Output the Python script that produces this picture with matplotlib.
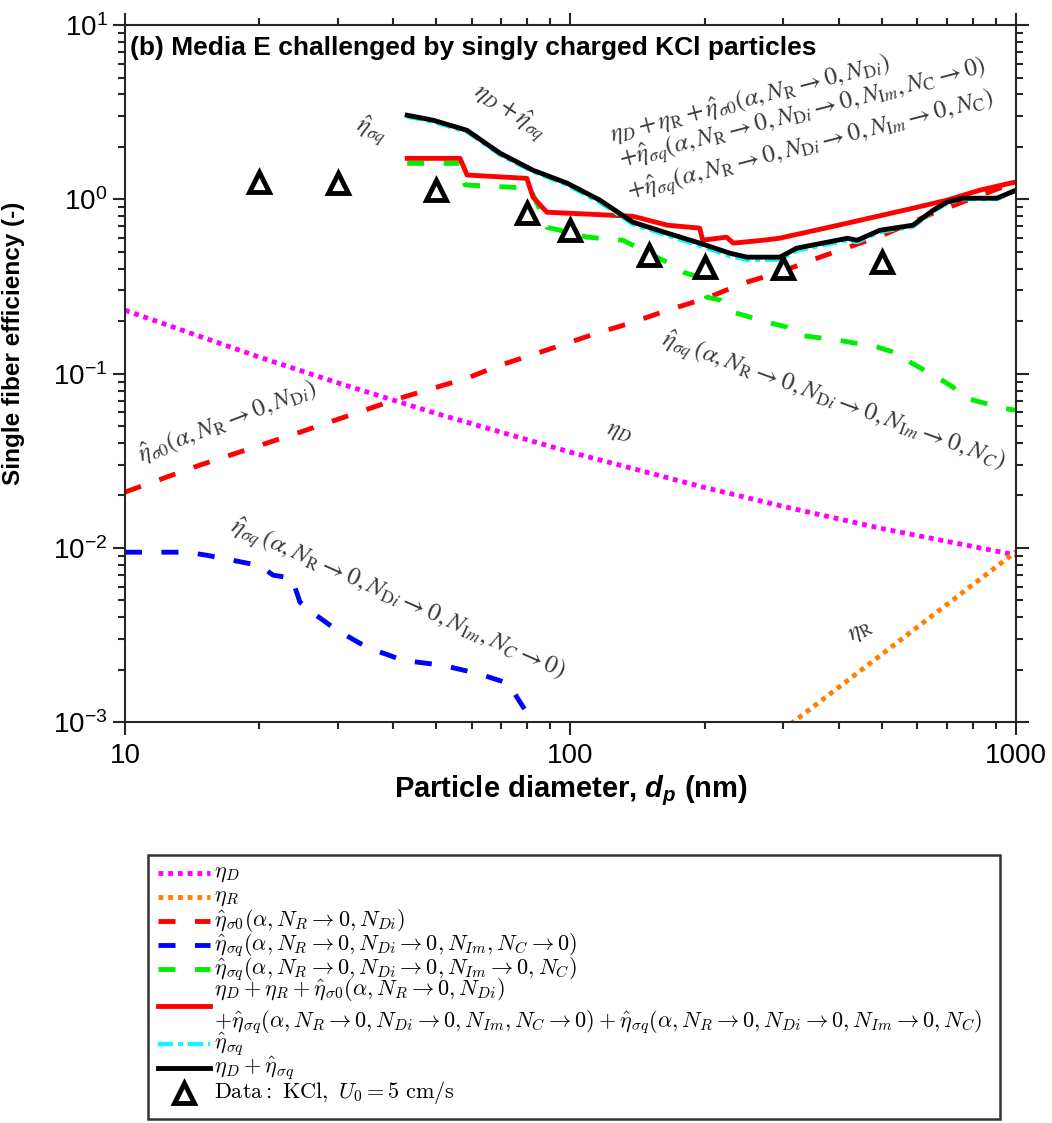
import matplotlib
matplotlib.use("Agg")
import matplotlib.pyplot as plt
from matplotlib.lines import Line2D
from matplotlib.patches import Rectangle

plt.rcParams['font.family'] = ['Liberation Sans', 'DejaVu Sans']
plt.rcParams['mathtext.fontset'] = 'custom'
plt.rcParams['mathtext.it'] = 'Liberation Sans:italic:bold'
plt.rcParams['mathtext.rm'] = 'Liberation Sans:bold'
plt.rcParams['mathtext.bf'] = 'Liberation Sans:bold'

# ---- data (d in nm, efficiencies in -) ----
d_diff = [10, 20, 30, 50, 100, 200, 300, 500, 1000]
eta_diff = [0.231, 0.1245, 0.0886, 0.059, 0.0354, 0.0222, 0.0173, 0.0129, 0.0091]

d_inter = [300, 316, 500, 700, 1000]
eta_inter = [0.0009, 0.001, 0.00245, 0.00474, 0.0095]

d_s0 = [10, 14.7, 24.7, 41.4, 58.6, 69.5, 85.5, 114.6, 136, 165, 202, 244, 295, 363, 500, 652, 861, 1000]
eta_s0 = [0.0209, 0.0298, 0.0461, 0.0723, 0.0942, 0.1117, 0.1327, 0.1706, 0.1946, 0.231, 0.271,
          0.330, 0.382, 0.466, 0.62, 0.834, 1.09, 1.26]

d_blue = [10, 13.8, 15.3, 16.6, 20.1, 21.5, 23.7, 24.7, 25.9, 29.9, 34.9, 42.1, 51.5, 62, 72.4, 81.9, 84]
eta_blue = [0.00944, 0.00944, 0.00906, 0.0087, 0.0079, 0.00697, 0.0067, 0.00488, 0.00439, 0.00337,
            0.00269, 0.00226, 0.00212, 0.0019, 0.00167, 0.00102, 0.0008]

d_green = [43.0, 56.5, 58, 81.1, 85.5, 88.5, 101, 109, 131, 165, 179, 195, 202, 217, 232, 277, 306,
           327, 403, 488, 541, 569, 665, 723, 761, 935, 1000]
eta_green = [1.61, 1.61, 1.21, 1.16, 0.867, 0.692, 0.64, 0.607, 0.583, 0.435, 0.382, 0.357, 0.275,
             0.264, 0.225, 0.197, 0.185, 0.166, 0.155, 0.142, 0.131, 0.119, 0.0953, 0.0835, 0.0731,
             0.0633, 0.0616]

d_total = [43.0, 56.5, 58.6, 79.8, 82.4, 88.5, 110.6, 138, 165, 195, 198, 224, 232, 271, 295, 418,
           587, 700, 830, 1000]
eta_total = [1.72, 1.72, 1.38, 1.32, 1.03, 0.844, 0.822, 0.80, 0.711, 0.684, 0.583, 0.607, 0.561,
             0.583, 0.599, 0.730, 0.890, 0.99, 1.13, 1.26]

d_sq = [43.0, 49.1, 58.6, 69.5, 82.4, 98.2, 116.4, 138, 165, 195, 228, 249, 295, 322, 418, 440, 495,
        587, 652, 700, 760, 906, 1000]
eta_sq = [2.98, 2.79, 2.44, 1.80, 1.44, 1.21, 0.96, 0.72, 0.62, 0.542, 0.473, 0.449, 0.450, 0.508,
          0.582, 0.568, 0.650, 0.697, 0.852, 0.950, 1.002, 1.003, 1.12]
eta_dsq = [3.04, 2.85, 2.49, 1.84, 1.47, 1.24, 0.99, 0.74, 0.64, 0.561, 0.491, 0.466, 0.466, 0.525,
           0.598, 0.583, 0.665, 0.711, 0.867, 0.964, 1.016, 1.016, 1.13]

d_data = [20, 30, 50, 80, 100, 150, 200, 300, 500]
eta_data = [1.255, 1.239, 1.13, 0.833, 0.665, 0.479, 0.408, 0.403, 0.436]

# ---- styles ----
dot = (0, (1, 1))
dash = (0, (3.5, 4))
dashdot = (0, (3.6, 1.2, 1.2, 1.2))
styles = [
    dict(color='#FF00FF', lw=3.5, ls=dot, dash_capstyle='butt'),
    dict(color='#FF8000', lw=3.5, ls=dot, dash_capstyle='butt'),
    dict(color='#FF0000', lw=3.5, ls=dash),
    dict(color='#0000FF', lw=3.5, ls=dash),
    dict(color='#00EE00', lw=3.5, ls=dash),
    dict(color='#FF0000', lw=3.5, ls='-'),
    dict(color='#00FFFF', lw=3, ls=dashdot),
    dict(color='black', lw=3.5, ls='-'),
]
marker_style = dict(ls='none', marker='^', ms=15, mfc='white', mec='black', mew=3.5)

labels = [
    r'$\eta_D$',
    r'$\eta_R$',
    r'$\hat{\eta}_{\sigma0}(\alpha,N_R\rightarrow0,N_{Di})$',
    r'$\hat{\eta}_{\sigma q}(\alpha,N_R\rightarrow0,N_{Di}\rightarrow0,N_{Im},N_C\rightarrow0)$',
    r'$\hat{\eta}_{\sigma q}(\alpha,N_R\rightarrow0,N_{Di}\rightarrow0,N_{Im}\rightarrow0,N_C)$',
    r'$\eta_D+\eta_R+\hat{\eta}_{\sigma0}(\alpha,N_R\rightarrow0,N_{Di})$' + '\n' +
    r'$+\hat{\eta}_{\sigma q}(\alpha,N_R\rightarrow0,N_{Di}\rightarrow0,N_{Im},N_C\rightarrow0)'
    r'+\hat{\eta}_{\sigma q}(\alpha,N_R\rightarrow0,N_{Di}\rightarrow0,N_{Im}\rightarrow0,N_C)$',
    r'$\hat{\eta}_{\sigma q}$',
    r'$\eta_D+\hat{\eta}_{\sigma q}$',
    r'$\mathrm{Data:\ KCl,}\ U_0=5\ \mathrm{cm/s}$',
]

# ---- figure ----
W, H = 1052, 1123
fig = plt.figure(figsize=(W / 100, H / 100), dpi=100)
ax = fig.add_axes([0.1188, 0.357, 0.847, 0.6206])

series = [(d_diff, eta_diff), (d_inter, eta_inter), (d_s0, eta_s0), (d_blue, eta_blue),
          (d_green, eta_green), (d_total, eta_total), (d_sq, eta_sq), (d_sq, eta_dsq)]
for (xs, ys), st in zip(series, styles):
    ax.plot(xs, ys, **st)
ax.plot(d_data, eta_data, **marker_style)

ax.set_xscale('log')
ax.set_yscale('log')
ax.set_xlim(10, 1000)
ax.set_ylim(1e-3, 10)
ax.set_xticks([10, 100, 1000])
ax.set_xticklabels(['10', '100', '1000'], fontsize=20)
ax.set_yticks([1e-3, 1e-2, 1e-1, 1, 10])
ax.set_yticklabels([r'$\mathregular{10^{-3}}$', r'$\mathregular{10^{-2}}$', r'$\mathregular{10^{-1}}$',
                    r'$\mathregular{10^{0}}$', r'$\mathregular{10^{1}}$'], fontsize=20)
ax.tick_params(which='both', direction='out', top=True, right=True, width=1.5, color='#262626')
ax.tick_params(which='major', length=9)
ax.tick_params(which='minor', length=5)
ax.tick_params(axis='x', pad=6)
for s in ax.spines.values():
    s.set_linewidth(1.5)
    s.set_color('#262626')

ax.set_xlabel(r'Particle diameter, $d_p$ (nm)', fontsize=21, fontweight='bold', labelpad=3)
ax.set_ylabel('Single fiber efficiency (-)', fontsize=17.5, fontweight='bold')
ax.yaxis.set_label_coords(-0.112, 0.544)

ax.text(0.006, 0.967, '(b) Media E challenged by singly charged KCl particles', transform=ax.transAxes,
        fontsize=19, fontweight='bold', va='center', ha='left')

# ---- curve annotations ----
gray = '#3a3a3a'
kw = dict(color=gray, fontsize=18, math_fontfamily='stix', rotation_mode='anchor')
ax.text(35.8, 2.49, r'$\hat{\eta}_{\sigma q}$', rotation=-22, ha='center', va='center', **kw)
ax.text(73.1, 3.17, r'$\eta_D+\hat{\eta}_{\sigma q}$', rotation=-33, ha='center', va='center', **kw)
ax.text(124, 2.13, r'$\eta_D+\eta_{\mathrm{R}}+\hat{\eta}_{\sigma 0}(\alpha,N_{\mathrm{R}}\rightarrow 0,N_{\mathrm{D}i})$',
        rotation=14.5, ha='left', va='baseline', **kw)
ax.text(130.6, 1.51, r'$+\hat{\eta}_{\sigma q}(\alpha,N_{\mathrm{R}}\rightarrow 0,N_{\mathrm{D}i}\rightarrow 0,N_{\mathrm{I}m},N_{\mathrm{C}}\rightarrow 0)$',
        rotation=14.5, ha='left', va='baseline', **kw)
ax.text(136, 0.99, r'$+\hat{\eta}_{\sigma q}(\alpha,N_{\mathrm{R}}\rightarrow 0,N_{\mathrm{D}i}\rightarrow 0,N_{\mathrm{I}m}\rightarrow 0,N_{\mathrm{C}})$',
        rotation=14.5, ha='left', va='baseline', **kw)
ax.text(10.9, 0.031, r'$\hat{\eta}_{\sigma 0}(\alpha,N_{\mathrm{R}}\rightarrow 0,N_{\mathrm{D}i})$',
        rotation=21, ha='left', va='baseline', **kw)
ax.text(40.8, 0.0050, r'$\hat{\eta}_{\sigma q}\,(\alpha,N_{\mathrm{R}}\rightarrow 0,N_{\mathrm{D}i}\rightarrow 0,N_{\mathrm{I}m},N_C\rightarrow 0)$',
        rotation=-24, ha='center', va='center', **kw)
ax.text(388, 0.0686, r'$\hat{\eta}_{\sigma q}\,(\alpha,N_{\mathrm{R}}\rightarrow 0,N_{\mathrm{D}i}\rightarrow 0,N_{\mathrm{I}m}\rightarrow 0,N_C)$',
        rotation=-20, ha='center', va='center', **kw)
ax.text(129, 0.0461, r'$\eta_D$', rotation=-15, ha='center', va='center', **kw)
ax.text(447, 0.00336, r'$\eta_{\mathrm{R}}$', rotation=28, ha='center', va='center', **kw)

# ---- legend box below the axes, laid out row by row (pixel rows as in the original) ----
def fx(px):
    return px / W


def fy(py):
    return 1 - py / H


fig.add_artist(Rectangle((fx(148), fy(1119)), fx(1000) - fx(148), fy(855) - fy(1119),
                         transform=fig.transFigure, fill=False, lw=1.8, ec='#333333'))
row_y = [873, 897, 921, 945, 969, 1006, 1044, 1068, 1093]
for i, st in enumerate(styles):
    fig.add_artist(Line2D([fx(158), fx(210)], [fy(row_y[i])] * 2, transform=fig.transFigure, **st))
fig.add_artist(Line2D([fx(184)], [fy(row_y[-1])], transform=fig.transFigure, **marker_style))
for i, lab in enumerate(labels):
    fig.text(fx(214), fy(row_y[i]), lab, fontsize=16, math_fontfamily='cm', va='center', ha='left',
             linespacing=1.3)

fig.savefig('out.png', dpi=100)
